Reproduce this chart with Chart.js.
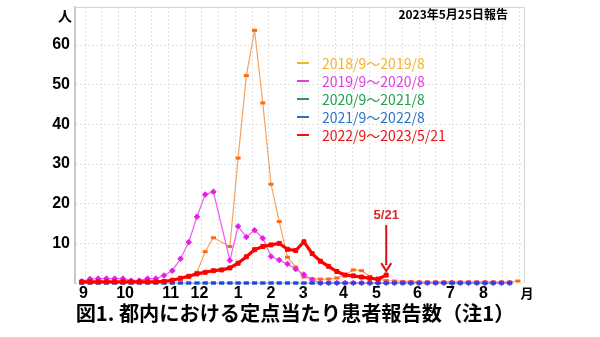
<!DOCTYPE html>
<html>
<head>
<meta charset="utf-8">
<script src="https://cdn.jsdelivr.net/npm/chart.js@4.4.0/dist/chart.umd.min.js"></script>
<style>
  html, body { margin: 0; padding: 0; background: #fff; }
  #wrap { width: 600px; height: 337px; }
</style>
</head>
<body>
<div id="wrap"><canvas id="fluChart" width="600" height="337"></canvas></div>
<script>
// Weekly reports per sentinel site, week 36 (Sep) through week 35 (Aug).
// Slot 17 is week 53; seasons without it leave a gap there.
const season2018 = [0.2, 0.2, 0.2, 0.2, 0.2, 0.2, 0.2, 0.2, 0.2, 0.2,
  0.3, 0.65, 1.0, 1.5, 2.7, 7.9, 11.4, null, 9.2, 31.5,
  52.3, 63.7, 45.4, 24.9, 15.5, 6.5, 4.0, 1.5, 1.1, 1.0,
  1.0, 1.25, 2.1, 3.3, 3.1, 1.7, 0.9, 0.6, 0.5, 0.4,
  0.4, 0.3, 0.3, 0.3, 0.3, 0.3, 0.3, 0.3, 0.3, 0.3,
  0.3, 0.3, 0.3, 0.5];
const season2019 = [0.4, 1.0, 1.1, 1.1, 1.1, 1.1, 0.6, 0.6, 1.1, 1.1,
  1.9, 3.1, 6.1, 10.3, 16.7, 22.3, 23.0, null, 5.7, 14.3,
  11.6, 13.3, 11.3, 6.7, 5.8, 4.8, 3.5, 2.1, 0.8, 0,
  0, 0, 0, 0, 0, 0, 0, 0, 0, 0,
  0, 0, 0, 0, 0, 0, 0, 0, 0, 0,
  0, 0, 0];
const season2020 = [0, 0, 0, 0, 0, 0, 0, 0, 0, 0,
  0, 0, 0, 0, 0, 0, 0, 0, 0, 0,
  0, 0, 0, 0, 0, 0, 0, 0, 0, 0,
  0, 0, 0, 0, 0, 0, 0, 0, 0, 0,
  0, 0, 0, 0, 0, 0, 0, 0, 0, 0,
  0, 0, 0];
const season2021 = [0, 0, 0, 0, 0, 0, 0, 0, 0, 0,
  0, 0, 0, 0, 0, 0, 0, 0, 0, 0,
  0, 0, 0, 0, 0, 0, 0, 0, 0, 0,
  0, 0, 0, 0, 0, 0, 0, 0, 0, 0,
  0, 0, 0, 0, 0, 0, 0, 0, 0, 0,
  0, 0, 0];
const season2022 = [0.3, 0.3, 0.3, 0.3, 0.3, 0.3, 0.3, 0.3, 0.3, 0.3,
  0.4, 0.7, 1.2, 1.7, 2.3, 2.7, 3.1, 3.3, 3.8, 5.0,
  6.6, 8.4, 9.2, 9.6, 10.0, 8.5, 8.2, 10.4, 7.4, 5.5,
  4.2, 2.9, 2.0, 1.8, 1.5, 1.2, 1.0, 2.0];

const seasonLabels = ['2018/9～2019/8', '2019/9～2020/8', '2020/9～2021/8', '2021/9～2022/8', '2022/9～2023/5/21'];

// month tick labels and the week slot each sits under
const monthLabels = ['9', '10', '11', '12', '1', '2', '3', '4', '5', '6', '7', '8'];
const monthSlots = [0.2, 5.26, 10.8, 14.3, 19.0, 23.0, 26.9, 31.8, 35.8, 40.8, 44.8, 48.8];

const lastReportSlot = 37;   // 5/21
const lastReportLabel = '5/21';

const NUM_FONT = "'Liberation Sans Narrow', 'Liberation Sans', Arial, sans-serif";
const JP_FONT = "'Noto Sans CJK JP', 'Liberation Sans', sans-serif";
const X_MIN = -0.82, X_MAX = 53.74;

function toPoints(arr) {
  return arr.map((v, i) => ({ x: i, y: v }));
}

// frame on top/right, plus every label drawn straight on the canvas
const overlay = {
  id: 'overlay',
  beforeDatasetsDraw(chart) {
    const { ctx, chartArea: a } = chart;
    ctx.save();
    ctx.strokeStyle = '#d4d4d4';
    ctx.lineWidth = 1;
    ctx.beginPath();
    ctx.moveTo(a.left, a.top + 0.5);
    ctx.lineTo(a.right + 0.5, a.top + 0.5);
    ctx.lineTo(a.right + 0.5, a.bottom);
    ctx.stroke();
    ctx.restore();
  },
  afterDraw(chart) {
    const { ctx, chartArea: a, scales } = chart;
    const xs = scales.x, ys = scales.y;
    ctx.save();

    // unit labels
    ctx.fillStyle = '#000';
    ctx.textBaseline = 'middle';
    ctx.textAlign = 'center';
    ctx.font = "bold 14px " + JP_FONT;
    ctx.fillText('人', 65, 16);
    ctx.font = "bold 13px " + JP_FONT;
    ctx.fillText('月', a.right + 3, a.bottom + 10);
    ctx.textAlign = 'right';
    ctx.font = "bold 12px " + JP_FONT;
    ctx.fillText('2023年5月25日報告', 508, 14);

    // legend
    ctx.textAlign = 'left';
    ctx.font = "14px " + JP_FONT;
    chart.data.datasets.forEach((ds, i) => {
      const y = 63 + i * 18;
      ctx.strokeStyle = ds.legendColor;
      ctx.lineWidth = 2;
      ctx.beginPath();
      ctx.moveTo(297, y);
      ctx.lineTo(309, y);
      ctx.stroke();
      ctx.fillStyle = ds.legendColor;
      ctx.fillText(ds.label, 322, y + 1);
    });

    // arrow marking the latest report
    const ax = xs.getPixelForValue(lastReportSlot);
    const yTop = ys.getPixelForValue(14.6);
    const yTip = ys.getPixelForValue(3.0);
    ctx.strokeStyle = '#e01010';
    ctx.lineWidth = 2;
    ctx.beginPath();
    ctx.moveTo(ax, yTop);
    ctx.lineTo(ax, yTip - 6);
    ctx.stroke();
    ctx.beginPath();
    ctx.moveTo(ax - 5, yTip - 8);
    ctx.lineTo(ax, yTip);
    ctx.lineTo(ax + 5, yTip - 8);
    ctx.stroke();
    ctx.textAlign = 'center';
    ctx.font = "bold 13px " + NUM_FONT;
    ctx.fillStyle = '#d42a2a';
    ctx.fillText(lastReportLabel, ax, ys.getPixelForValue(17.1));

    // caption
    ctx.fillStyle = '#000';
    ctx.font = "bold 20.2px " + JP_FONT;
    ctx.fillText('図1. 都内における定点当たり患者報告数（注1）', 295, 313);
    ctx.restore();
  }
};

new Chart(document.getElementById('fluChart'), {
  type: 'line',
  data: {
    datasets: [
      {
        label: seasonLabels[0], data: toPoints(season2018),
        borderColor: '#f4a462', borderWidth: 1.2, spanGaps: true,
        pointStyle: 'line', pointRadius: 2.5, pointBorderWidth: 3,
        pointBorderColor: '#ff6a10', pointBackgroundColor: '#ff6a10',
        legendColor: '#f2b233', order: 4
      },
      {
        label: seasonLabels[1], data: toPoints(season2019),
        borderColor: '#ee5cee', borderWidth: 1.2, spanGaps: true,
        pointStyle: 'rectRot', pointRadius: 2.8, pointBorderWidth: 1,
        pointBorderColor: '#e61ee6', pointBackgroundColor: '#e61ee6',
        legendColor: '#e040e0', order: 3
      },
      {
        label: seasonLabels[2], data: toPoints(season2020),
        borderColor: 'rgba(32,160,80,0.3)', borderWidth: 1,
        pointStyle: 'line', pointRadius: 2.5, pointBorderWidth: 3,
        pointBorderColor: '#20a050', pointBackgroundColor: '#20a050',
        legendColor: '#20a050', order: 2
      },
      {
        label: seasonLabels[3], data: toPoints(season2021),
        borderColor: 'rgba(43,60,245,0.3)', borderWidth: 1,
        pointStyle: 'line', pointRadius: 2.5, pointBorderWidth: 3,
        pointBorderColor: '#2b3cf5', pointBackgroundColor: '#2b3cf5',
        legendColor: '#2a73c4', order: 1
      },
      {
        label: seasonLabels[4], data: toPoints(season2022),
        borderColor: '#ff0000', borderWidth: 3.2,
        pointStyle: 'rect', pointRadius: 2.8, pointBorderWidth: 1,
        pointBorderColor: '#ff0000', pointBackgroundColor: '#ff0000',
        legendColor: '#ee1111', order: 0
      }
    ]
  },
  options: {
    responsive: false,
    animation: false,
    clip: false,
    layout: { padding: { top: 5, right: 76, bottom: 38, left: 0 } },
    plugins: { legend: { display: false }, tooltip: { enabled: false } },
    elements: { line: { tension: 0 } },
    scales: {
      x: {
        type: 'linear', min: X_MIN, max: X_MAX,
        afterBuildTicks: axis => { axis.ticks = monthSlots.map(v => ({ value: v })); },
        afterFit: s => { s.height = 16; s.paddingLeft = 0; s.paddingRight = 0; },
        ticks: {
          autoSkip: false, maxRotation: 0, padding: 1, color: '#000',
          font: { family: NUM_FONT, size: 16, weight: 'bold' },
          callback: (v, i) => monthLabels[i]
        },
        grid: { display: false, drawTicks: false },
        border: { display: false }
      },
      // vertical dotted grid every two weeks
      xg: {
        type: 'linear', position: 'bottom', min: X_MIN, max: X_MAX,
        afterBuildTicks: axis => {
          const t = [];
          for (let v = 0.4; v < X_MAX; v += 2.03) t.push({ value: v });
          axis.ticks = t;
        },
        afterFit: s => { s.height = 0; s.paddingLeft = 0; s.paddingRight = 0; },
        ticks: { display: false },
        grid: { color: '#e0e0e0', drawTicks: false },
        border: { display: false, dash: [2, 2] }
      },
      y: {
        min: 0, max: 69.6,
        afterFit: s => { s.width = 75; s.paddingTop = 0; s.paddingBottom = 0; },
        ticks: {
          stepSize: 5, padding: 5, color: '#000',
          font: { family: NUM_FONT, size: 16, weight: 'bold' },
          callback: v => (v > 0 && v <= 60 && v % 10 === 0) ? v : ''
        },
        grid: { color: '#e0e0e0', drawTicks: false },
        border: { display: true, color: '#c8c8c8', width: 2, dash: [2, 2] }
      }
    }
  },
  plugins: [overlay]
});
</script>
</body>
</html>
